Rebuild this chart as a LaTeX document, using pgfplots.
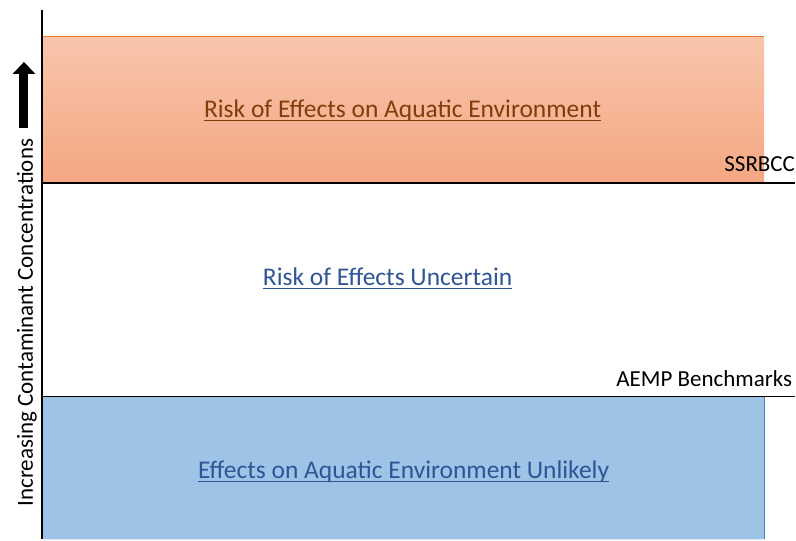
\documentclass[border=0pt]{standalone}
\usepackage{pgfplots}
\pgfplotsset{compat=1.18}
\usepackage{fontspec}
\setmainfont{Carlito}
\usetikzlibrary{arrows.meta}
\definecolor{orfillT}{RGB}{248,197,172}
\definecolor{orfillB}{RGB}{244,167,130}
\definecolor{oredge}{RGB}{237,125,49}
\definecolor{bluefill}{RGB}{157,195,230}
\definecolor{blueedge}{RGB}{80,125,180}
\definecolor{ortext}{RGB}{132,60,12}
\definecolor{bltext}{RGB}{47,85,151}
\newcommand{\myul}[1]{\setbox0\hbox{#1}\rlap{\rule[-3.5pt]{\wd0}{1.3pt}}\box0}
\begin{document}
\begin{tikzpicture}
\begin{axis}[scale only axis, width=796pt, height=540pt,
  xmin=0, xmax=796, ymin=0, ymax=540, axis lines=none, clip=false]
% invisible frame so the picture spans the full canvas
\path (axis cs:0,0) rectangle (axis cs:796,540);
% orange zone (risk of effects)
\addplot[draw=none, top color=orfillT, bottom color=orfillB]
  coordinates {(43,357) (765,357) (765,503) (43,503) (43,357)};
\addplot[oredge, line width=1pt] coordinates {(43,503) (765,503)};
% blue zone (effects unlikely)
\addplot[draw=none, fill=bluefill]
  coordinates {(43,0) (765,0) (765,143) (43,143) (43,0)};
\addplot[blueedge, line width=1pt] coordinates {(765,0) (765,143)};
% threshold lines
\addplot[black, line width=1.6pt] coordinates {(43,357) (796,357)};
\addplot[black, line width=1.6pt] coordinates {(43,143) (796,143)};
% vertical axis line
\addplot[black, line width=1.6pt] coordinates {(42,0) (42,530)};
% arrow
\draw[-{Triangle[width=22pt,length=12pt]}, line width=9pt] (axis cs:24,412) -- (axis cs:24,478);
% texts
\node[font=\fontsize{25.5}{30}\selectfont, text=ortext, anchor=base] at (axis cs:403,422) {\myul{Risk of Effects on Aquatic Environment}};
\node[font=\fontsize{25.5}{30}\selectfont, text=bltext, anchor=base] at (axis cs:388,254) {\myul{Risk of Effects Uncertain}};
\node[font=\fontsize{25.5}{30}\selectfont, text=bltext, anchor=base] at (axis cs:404,61) {\myul{Effects on Aquatic Environment Unlikely}};
\node[font=\fontsize{23}{27}\selectfont, anchor=base east, inner sep=0pt] at (axis cs:796,368) {SSRBCC};
\node[font=\fontsize{23}{27}\selectfont, anchor=base east, inner sep=0pt] at (axis cs:793,153) {AEMP Benchmarks};
\node[font=\fontsize{23}{27}\selectfont, rotate=90, anchor=base, inner sep=0pt] at (axis cs:33,217) {Increasing Contaminant Concentrations};
\end{axis}
\end{tikzpicture}
\end{document}
